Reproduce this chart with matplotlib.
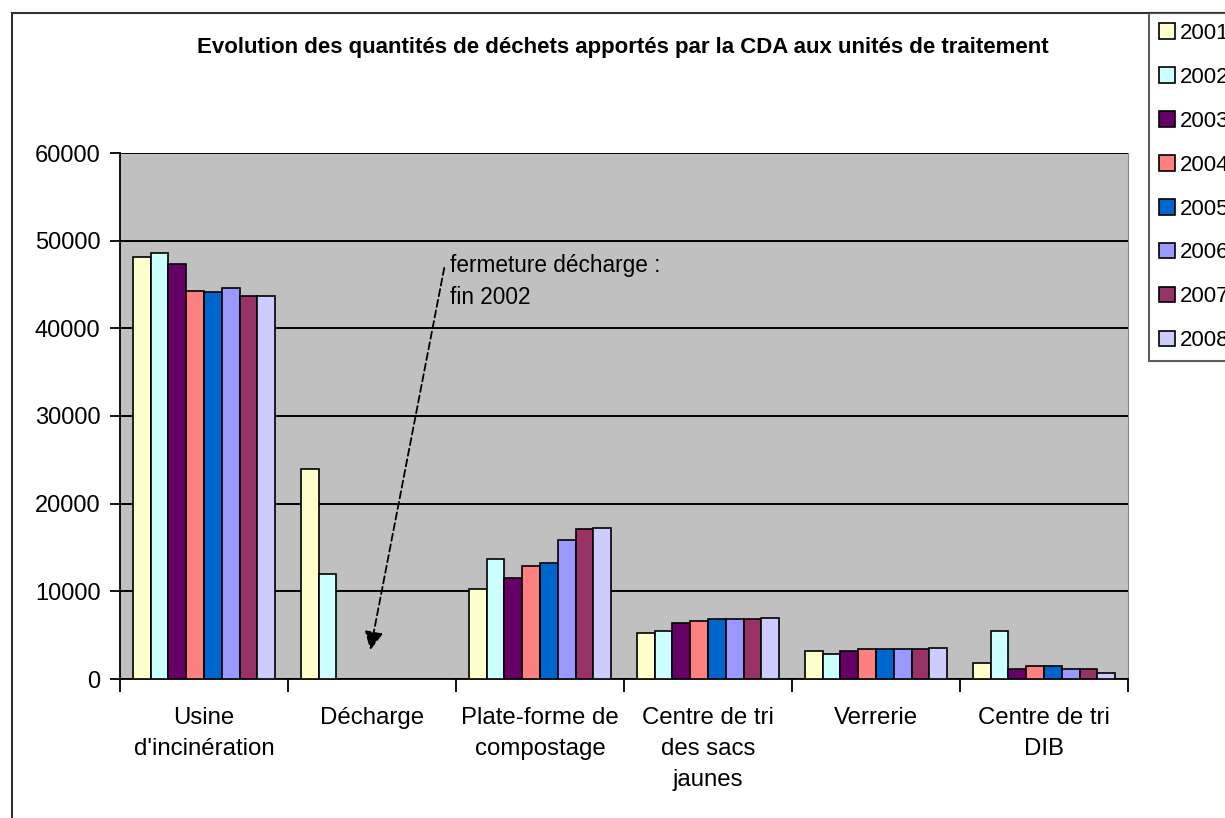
import numpy as np
import matplotlib
matplotlib.use('Agg')
import matplotlib.pyplot as plt
from matplotlib.patches import Rectangle

plt.rcParams['font.family'] = ['Liberation Sans', 'DejaVu Sans']

categories = ["Usine\nd'incinération", "Décharge", "Plate-forme de\ncompostage",
              "Centre de tri\ndes sacs\njaunes", "Verrerie", "Centre de tri\nDIB"]
years = ['2001', '2002', '2003', '2004', '2005', '2006', '2007', '2008']
v2001 = [48100, 23900, 10250, 5300, 3200, 1850]
v2002 = [48600, 11950, 13700, 5480, 2800, 5480]
v2003 = [47350, 0, 11550, 6420, 3200, 1100]
v2004 = [44300, 0, 12850, 6650, 3380, 1480]
v2005 = [44100, 0, 13250, 6800, 3380, 1480]
v2006 = [44600, 0, 15800, 6800, 3380, 1100]
v2007 = [43650, 0, 17100, 6800, 3380, 1100]
v2008 = [43650, 0, 17250, 7000, 3570, 720]
series = [v2001, v2002, v2003, v2004, v2005, v2006, v2007, v2008]
colors = ['#FFFFCC', '#CCFFFF', '#660066', '#FF8080',
          '#0066CC', '#9999FF', '#993366', '#CCCCFF']

fig = plt.figure(figsize=(12.25, 8.18), dpi=100)
ax = fig.add_axes([120/1225, 1-679/818, 1008/1225, 526/818])
ax.set_facecolor('#C0C0C0')

x = np.arange(len(categories))
w = 0.106
for i, (vals, c, yr) in enumerate(zip(series, colors, years)):
    ax.bar(x + (i - 3.5)*w, vals, w, color=c, edgecolor='black', linewidth=1.2,
           label=yr, zorder=3)

ax.set_xlim(-0.5, len(categories) - 0.5)
ax.set_ylim(0, 60000)
ax.set_yticks(range(0, 60001, 10000))
ax.yaxis.grid(True, color='black', linewidth=1.4, zorder=1)
ax.set_axisbelow(True)
ax.tick_params(axis='y', labelsize=17, length=7, width=1.3, direction='out', pad=7)

ax.set_xticks(x)
ax.set_xticklabels(categories, fontsize=17.3, linespacing=1.55)
ax.tick_params(axis='x', length=0, pad=20)
ax.set_xticks(np.arange(-0.5, len(categories)), minor=True)
ax.tick_params(axis='x', which='minor', length=9, width=1.3, direction='out')

ax.spines['top'].set_visible(False)
ax.spines['right'].set_color('#888888')
ax.spines['left'].set_linewidth(1.3)
ax.spines['bottom'].set_linewidth(1.3)

# arrow + note about the landfill closing
ax.annotate('', xy=(0.99, 3300), xytext=(1.43, 46900),
            arrowprops=dict(arrowstyle='-|>', linestyle=(0, (4, 2)), color='black',
                            lw=1.3, mutation_scale=28, shrinkA=0, shrinkB=0), zorder=5)
ax.text(1.465, 45300, 'fermeture décharge :\nfin 2002', fontsize=16.3,
        va='center', ha='left', linespacing=1.5, zorder=5)

fig.text(623/1225, 1-48/818, 'Evolution des quantités de déchets apportés par la CDA aux unités de traitement',
         ha='center', va='center', fontsize=16, fontweight='bold')

# outer frame of the chart
fig.patches.append(Rectangle((12/1225, -0.5), 2, 1.5 - 13/818, transform=fig.transFigure,
                             fill=False, edgecolor='#333333', linewidth=1.5, zorder=0))

leg = fig.legend(loc='upper left', bbox_to_anchor=(1149/1225, 1-13/818), fontsize=16,
                 frameon=True, fancybox=False, edgecolor='#333333', handlelength=0.7,
                 handleheight=0.7, handletextpad=0.25, labelspacing=1.03,
                 borderpad=0.45, borderaxespad=0)
leg.get_frame().set_linewidth(1.5)

fig.savefig('out.png', dpi=100)
